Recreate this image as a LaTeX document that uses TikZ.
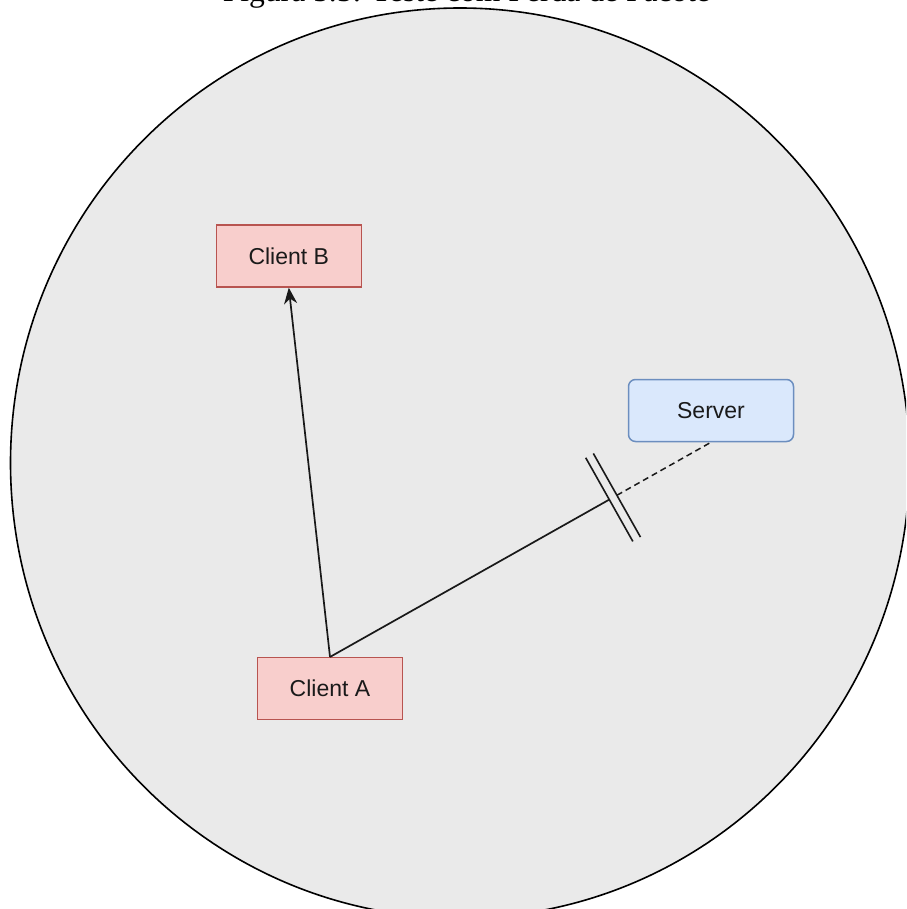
\documentclass[tikz,border=0pt]{standalone}
\usepackage{fontspec}
\setmainfont{Liberation Serif}
\newfontfamily\boxfont{Liberation Sans}
\usetikzlibrary{arrows.meta,calc}
\definecolor{bgfill}{HTML}{EAEAEA}
\definecolor{redfill}{HTML}{F8CECC}
\definecolor{redline}{HTML}{B85450}
\definecolor{bluefill}{HTML}{DAE8FC}
\definecolor{blueline}{HTML}{6C8EBF}
\definecolor{txt}{HTML}{1A1A1A}
\tikzset{
  clientbox/.style={draw=redline, fill=redfill, line width=1.5pt, minimum width=145pt, minimum height=62pt, inner sep=0pt, font=\boxfont\fontsize{23}{27}\selectfont, text=txt},
  serverbox/.style={draw=blueline, fill=bluefill, line width=1.5pt, rounded corners=7pt, minimum width=165pt, minimum height=62pt, inner sep=0pt, font=\boxfont\fontsize{23}{27}\selectfont, text=txt},
  conn/.style={line width=1.7pt, black!90},
  cutbar/.style={line width=1.6pt, black!90},
}
\begin{document}
\begin{tikzpicture}[x=1pt,y=-1pt]
\useasboundingbox (0,0) rectangle (906,909);
\clip (0,0) rectangle (906,909);
\fill[white] (0,0) rectangle (906,909);
\node[anchor=base, font=\fontsize{31.6}{36}\selectfont] (cap) at (466.5,1.2) {Figura 5.5: Teste com Perda de Pacote};
\draw[line width=1.6pt, fill=bgfill] (460,463) ellipse [x radius=449.5, y radius=455];
\node[clientbox] (cb) at (288.8,256) {Client B};
\node[clientbox] (ca) at (330,688.7) {Client A};
\node[serverbox] (sv) at (711,410.5) {Server};
\draw[conn, -{Stealth[length=16pt,width=13pt,inset=5pt]}] (ca.north) -- (cb.south);
\coordinate (c1) at ($(ca.north)!0.733!(sv.south)$);
\coordinate (c2) at ($(ca.north)!0.753!(sv.south)$);
\draw[conn] (ca.north) -- (c1);
\draw[conn, line width=1.5pt, dash pattern=on 6pt off 4pt] (c2) -- (sv.south);
\draw[cutbar] ($(c1)!48pt!90:(sv.south)$) -- ($(c1)!48pt!-90:(sv.south)$);
\draw[cutbar] ($(c2)!48pt!90:(sv.south)$) -- ($(c2)!48pt!-90:(sv.south)$);
\end{tikzpicture}
\end{document}
